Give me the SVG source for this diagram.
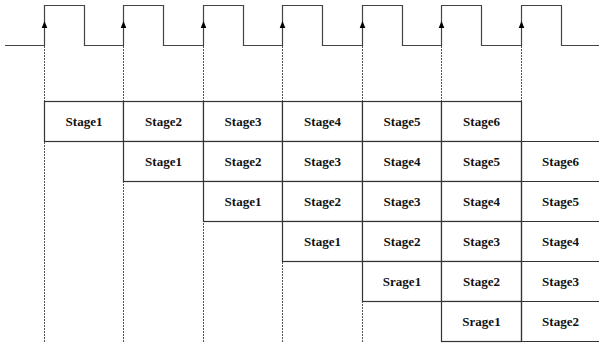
<svg xmlns="http://www.w3.org/2000/svg" xmlns:xlink="http://www.w3.org/1999/xlink" width="599" height="344" viewBox="0 0 599 344">
<style>
.clk{fill:none;stroke:#444;stroke-width:1.2}
.dash{fill:none;stroke:#555;stroke-width:1;stroke-dasharray:2,1}
.cell{fill:#fff;stroke:#333;stroke-width:1.2}
.open{fill:none;stroke:#333;stroke-width:1.2}
text{font-family:"Liberation Serif","Times New Roman",serif;font-weight:bold;font-size:13px;text-anchor:middle;fill:#111}
</style>
<defs>
<path id="ah" d="M0,-4 L-2.8,3 L2.8,3 Z" fill="#000"/>
</defs>
<rect width="599" height="344" fill="#fff"/>
<g id="connectors">
<path class="clk" d="M5,45.5 H44.5 V5.5 H84.5 V45.5 H123.5 V5.5 H163.5 V45.5 H203.5 V5.5 H243.5 V45.5 H282.5 V5.5 H322.5 V45.5 H362.5 V5.5 H402.5 V45.5 H441.5 V5.5 H481.5 V45.5 H521.5 V5.5 H561.5 V45.5 H599"/>
<path class="dash" d="M44.5,46 V342 M123.5,46 V342 M203.5,46 V342 M282.5,46 V342 M362.5,46 V342 M441.5,46 V342 M521.5,46 V342"/>
<use xlink:href="#ah" x="44.5" y="25"/>
<use xlink:href="#ah" x="123.5" y="25"/>
<use xlink:href="#ah" x="203.5" y="25"/>
<use xlink:href="#ah" x="282.5" y="25"/>
<use xlink:href="#ah" x="362.5" y="25"/>
<use xlink:href="#ah" x="441.5" y="25"/>
<use xlink:href="#ah" x="521.5" y="25"/>
</g>
<g id="row1">
<g id="r1c1"><rect class="cell" x="44.5" y="101.5" width="79" height="40"/><text x="84" y="126">Stage1</text></g>
<g id="r1c2"><rect class="cell" x="123.5" y="101.5" width="80" height="40"/><text x="163.5" y="126">Stage2</text></g>
<g id="r1c3"><rect class="cell" x="203.5" y="101.5" width="79" height="40"/><text x="243" y="126">Stage3</text></g>
<g id="r1c4"><rect class="cell" x="282.5" y="101.5" width="80" height="40"/><text x="322.5" y="126">Stage4</text></g>
<g id="r1c5"><rect class="cell" x="362.5" y="101.5" width="79" height="40"/><text x="402" y="126">Stage5</text></g>
<g id="r1c6"><rect class="cell" x="441.5" y="101.5" width="80" height="40"/><text x="481.5" y="126">Stage6</text></g>
</g>
<g id="row2">
<g id="r2c2"><rect class="cell" x="123.5" y="141.5" width="80" height="40"/><text x="163.5" y="166">Stage1</text></g>
<g id="r2c3"><rect class="cell" x="203.5" y="141.5" width="79" height="40"/><text x="243" y="166">Stage2</text></g>
<g id="r2c4"><rect class="cell" x="282.5" y="141.5" width="80" height="40"/><text x="322.5" y="166">Stage3</text></g>
<g id="r2c5"><rect class="cell" x="362.5" y="141.5" width="79" height="40"/><text x="402" y="166">Stage4</text></g>
<g id="r2c6"><rect class="cell" x="441.5" y="141.5" width="80" height="40"/><text x="481.5" y="166">Stage5</text></g>
<g id="r2c7"><path class="open" d="M599,141.5 H521.5 V181.5 H599"/><text x="560.5" y="166">Stage6</text></g>
</g>
<g id="row3">
<g id="r3c3"><rect class="cell" x="203.5" y="181.5" width="79" height="40"/><text x="243" y="206">Stage1</text></g>
<g id="r3c4"><rect class="cell" x="282.5" y="181.5" width="80" height="40"/><text x="322.5" y="206">Stage2</text></g>
<g id="r3c5"><rect class="cell" x="362.5" y="181.5" width="79" height="40"/><text x="402" y="206">Stage3</text></g>
<g id="r3c6"><rect class="cell" x="441.5" y="181.5" width="80" height="40"/><text x="481.5" y="206">Stage4</text></g>
<g id="r3c7"><path class="open" d="M599,181.5 H521.5 V221.5 H599"/><text x="560.5" y="206">Stage5</text></g>
</g>
<g id="row4">
<g id="r4c4"><rect class="cell" x="282.5" y="221.5" width="80" height="40"/><text x="322.5" y="246">Stage1</text></g>
<g id="r4c5"><rect class="cell" x="362.5" y="221.5" width="79" height="40"/><text x="402" y="246">Stage2</text></g>
<g id="r4c6"><rect class="cell" x="441.5" y="221.5" width="80" height="40"/><text x="481.5" y="246">Stage3</text></g>
<g id="r4c7"><path class="open" d="M599,221.5 H521.5 V261.5 H599"/><text x="560.5" y="246">Stage4</text></g>
</g>
<g id="row5">
<g id="r5c5"><rect class="cell" x="362.5" y="261.5" width="79" height="40"/><text x="402" y="286">Srage1</text></g>
<g id="r5c6"><rect class="cell" x="441.5" y="261.5" width="80" height="40"/><text x="481.5" y="286">Stage2</text></g>
<g id="r5c7"><path class="open" d="M599,261.5 H521.5 V301.5 H599"/><text x="560.5" y="286">Stage3</text></g>
</g>
<g id="row6">
<g id="r6c6"><rect class="cell" x="441.5" y="301.5" width="80" height="40"/><text x="481.5" y="326">Srage1</text></g>
<g id="r6c7"><path class="open" d="M599,301.5 H521.5 V341.5 H599"/><text x="560.5" y="326">Stage2</text></g>
</g>
</svg>
